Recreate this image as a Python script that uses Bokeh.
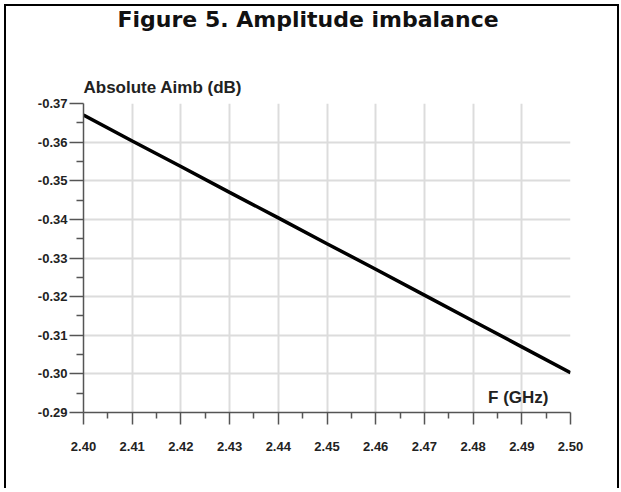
from bokeh.plotting import figure
from bokeh.models import (Range1d, FixedTicker, LinearAxis, Label, Title, Grid,
                          CustomJSTickFormatter)
from bokeh.embed import file_html
from bokeh.resources import INLINE

# Data
freq_ghz = [2.40, 2.41, 2.42, 2.43, 2.44, 2.45, 2.46, 2.47, 2.48, 2.49, 2.50]
aimb_db = [-0.3670, -0.3603, -0.3537, -0.3470, -0.3404, -0.3337, -0.3271,
           -0.3204, -0.3137, -0.3070, -0.3003]
x_ticks = [2.40, 2.41, 2.42, 2.43, 2.44, 2.45, 2.46, 2.47, 2.48, 2.49, 2.50]
x_minor = [2.405, 2.415, 2.425, 2.435, 2.445, 2.455, 2.465, 2.475, 2.485, 2.495]
y_ticks = [-0.37, -0.36, -0.35, -0.34, -0.33, -0.32, -0.31, -0.30, -0.29]
y_minor = [-0.365, -0.355, -0.345, -0.335, -0.325, -0.315, -0.305, -0.295]
title_text = "Figure 5. Amplitude imbalance"
y_title = "Absolute Aimb (dB)"
x_title = "F (GHz)"

FONT = "Liberation Sans"

p = figure(width=615, height=484, output_backend="svg", toolbar_location=None,
           x_range=Range1d(2.40, 2.50), y_range=Range1d(-0.29, -0.37),
           min_border_left=77, min_border_right=51, min_border_top=97,
           min_border_bottom=78, x_axis_type=None, y_axis_type=None)
p.styles = {"border-top": "2px solid black", "border-left": "2px solid black",
            "border-right": "2px solid black", "margin-left": "4px",
            "margin-top": "4px"}
p.outline_line_color = None
p.background_fill_color = "white"
p.border_fill_color = "white"

fmt = "return tick.toFixed(2);"
xaxis = LinearAxis(ticker=FixedTicker(ticks=x_ticks, minor_ticks=x_minor),
                   formatter=CustomJSTickFormatter(code=fmt))
yaxis = LinearAxis(ticker=FixedTicker(ticks=y_ticks, minor_ticks=y_minor),
                   formatter=CustomJSTickFormatter(code=fmt))

for ax in (xaxis, yaxis):
    ax.axis_line_color = "#555555"
    ax.axis_line_width = 1.5
    ax.major_tick_line_color = "#555555"
    ax.major_tick_line_width = 1.5
    ax.minor_tick_line_color = "#555555"
    ax.minor_tick_line_width = 1.5
    ax.major_tick_in = 0
    ax.minor_tick_in = 0
    ax.major_label_text_font = FONT
    ax.major_label_text_font_style = "bold"
    ax.major_label_text_font_size = "13px"
    ax.major_label_text_color = "#222222"

xaxis.major_tick_out = 12
xaxis.minor_tick_out = 6
xaxis.major_label_standoff = 17
yaxis.major_tick_out = 14
yaxis.minor_tick_out = 7
yaxis.major_label_standoff = 2

p.add_layout(xaxis, "below")
p.add_layout(yaxis, "left")

p.add_layout(Grid(dimension=0, ticker=FixedTicker(ticks=x_ticks),
                  grid_line_color="#dcdcdc", grid_line_width=2))
p.add_layout(Grid(dimension=1, ticker=FixedTicker(ticks=y_ticks),
                  grid_line_color="#dcdcdc", grid_line_width=2))
p.add_layout(Grid(dimension=1, ticker=FixedTicker(ticks=[y_ticks[0]]),
                  grid_line_color="#888888", grid_line_width=2))

p.line(freq_ghz, aimb_db, line_color="black", line_width=3.5)

# stacked above the frame: axis title, spacer, main title
p.add_layout(Title(text=y_title, align="left", standoff=14,
                   text_font=FONT, text_font_style="bold", text_font_size="17px",
                   text_color="#222222"), "above")
p.add_layout(Title(text=" ", align="left", standoff=30,
                   text_font=FONT, text_font_size="10px",
                   text_color="white"), "above")
p.add_layout(Title(text=title_text, align="left", offset=34, standoff=-12,
                   text_font="DejaVu Sans", text_font_style="bold",
                   text_font_size="22px", text_color="#111111"), "above")

p.add_layout(Label(x=2.50, y=-0.29, x_offset=-22, y_offset=15, text=x_title,
                   text_align="right", text_baseline="alphabetic",
                   text_font=FONT, text_font_style="bold", text_font_size="17px",
                   text_color="#222222"))

open("out.html", "w").write(file_html(p, INLINE))
